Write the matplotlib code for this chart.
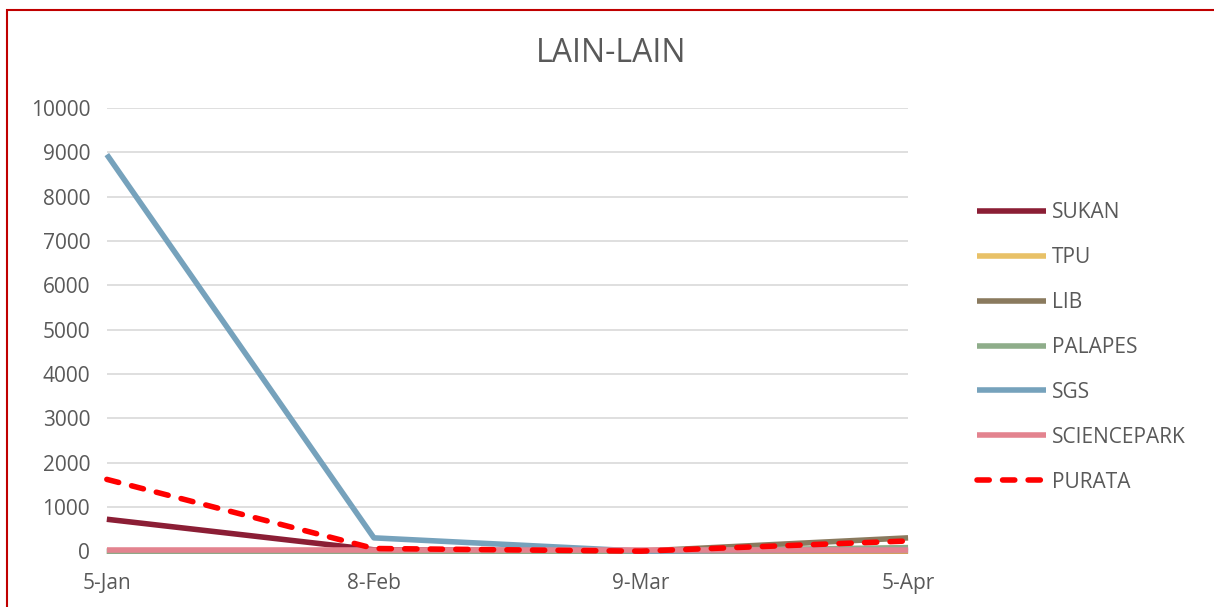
import matplotlib.pyplot as plt
from matplotlib.patches import Rectangle

plt.rcParams['font.family'] = ['Open Sans', 'DejaVu Sans']

dates = ['5-Jan', '8-Feb', '9-Mar', '5-Apr']
sukan = [720, 30, 0, 0]
tpu = [0, 0, 0, 0]
lib = [0, 0, 0, 300]
palapes = [0, 0, 0, 80]
sgs = [8950, 300, 0, 30]
sciencepark = [20, 20, 20, 20]
purata = [1620, 60, 0, 230]

series = [
    ('SUKAN', sukan, '#8B1E35', '-'),
    ('TPU', tpu, '#E8C167', '-'),
    ('LIB', lib, '#8A7A5E', '-'),
    ('PALAPES', palapes, '#8EAD8A', '-'),
    ('SGS', sgs, '#76A2BC', '-'),
    ('SCIENCEPARK', sciencepark, '#E3838F', '-'),
    ('PURATA', purata, '#FF0000', '--'),
]

fig = plt.figure(figsize=(12.14, 6.07), dpi=100)
ax = fig.add_axes([0.088, 0.092, 0.66, 0.730])

x = range(len(dates))
for name, vals, col, ls in series:
    ax.plot(x, vals, color=col, ls=ls, lw=4, label=name, clip_on=False,
            solid_capstyle='butt', dash_capstyle='round',
            dashes=(2.2, 2.4) if ls == '--' else (None, None))

ax.set_xlim(0, 3)
ax.set_ylim(0, 10000)
ax.set_yticks(range(0, 10001, 1000))
ax.set_xticks(list(x))
ax.set_xticklabels(dates)
ax.grid(axis='y', color='#D9D9D9', lw=1.2)
ax.set_axisbelow(True)
for s in ax.spines.values():
    s.set_visible(False)
ax.tick_params(length=0, labelsize=15, colors='#595959', pad=12)
ax.tick_params(axis='x', pad=16)

fig.text(0.503, 0.912, 'LAIN-LAIN', fontsize=23, color='#595959',
         ha='center', va='center')

leg = ax.legend(loc='center left', bbox_to_anchor=(1.063, 0.46), frameon=False,
                fontsize=15, labelcolor='#595959', handlelength=3.3,
                labelspacing=1.15, handletextpad=0.3)

fig.patches.append(Rectangle((7 / 1214, -0.1), 1.2, 1 - 10 / 607 + 0.1,
                             transform=fig.transFigure, fill=False,
                             edgecolor='#C00000', lw=1.5))

fig.savefig('out.png', dpi=100)
